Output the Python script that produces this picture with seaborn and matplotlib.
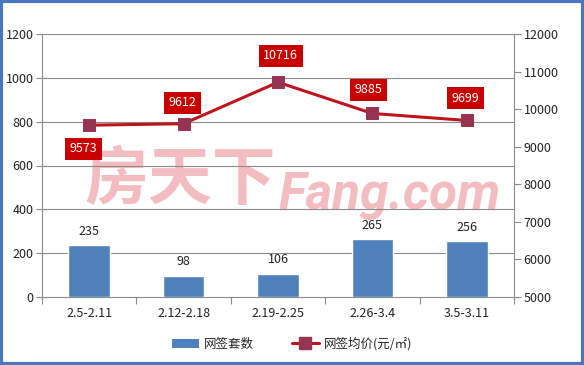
import numpy as np
import pandas as pd
import matplotlib
matplotlib.use("Agg")
import matplotlib.pyplot as plt
import seaborn as sns
from matplotlib.lines import Line2D
from matplotlib.patches import Patch, Rectangle

categories = ["2.5-2.11", "2.12-2.18", "2.19-2.25", "2.26-3.4", "3.5-3.11"]
counts = [235, 98, 106, 265, 256]
prices = [9573, 9612, 10716, 9885, 9699]
left_ticks = [0, 200, 400, 600, 800, 1000, 1200]
right_ticks = [5000, 6000, 7000, 8000, 9000, 10000, 11000, 12000]
bar_name = "网签套数"
line_name = "网签均价(元/㎡)"

sns.set_theme(style="white")
plt.rcParams["font.family"] = ["Noto Sans CJK SC", "DejaVu Sans"]

W, H = 584, 365
fig = plt.figure(figsize=(W / 100, H / 100), dpi=100)
fig.patch.set_facecolor("white")
ax = fig.add_axes([42 / W, 1 - 297 / H, (514 - 42) / W, (297 - 34) / H])

df = pd.DataFrame({"cat": categories, "count": counts, "price": prices, "pos": np.arange(len(categories))})

grid_c = "#8a8a8a"
bar_c = "#4f81bd"
line_c = "#c0141c"
mark_c = "#953553"
wm_c = "#f2bcc0"

sns.barplot(data=df, x="cat", y="count", ax=ax, color=bar_c, width=0.44,
            saturation=1, zorder=3)
ax.set_ylim(0, 1200)
ax.set_xlim(-0.5, len(categories) - 0.5)
ax.set_yticks(left_ticks)
ax.set_xlabel("")
ax.set_ylabel("")
for y in left_ticks[1:]:
    ax.axhline(y, color=grid_c, lw=0.8, zorder=1)
ax.set_xticks(np.arange(len(categories)))
ax.set_xticklabels(categories, fontsize=9, color="#222222")
ax.set_xticks(np.arange(-0.5, len(categories)), minor=True)
ax.tick_params(axis="x", which="major", length=0, pad=7)
ax.tick_params(axis="x", which="minor", length=5, width=0.8, color=grid_c, direction="out", bottom=True)
ax.tick_params(axis="y", length=4, width=0.8, color=grid_c, left=True, labelsize=9, labelcolor="#222222", pad=2)
for s in ["top", "right"]:
    ax.spines[s].set_visible(False)
for s in ["left", "bottom"]:
    ax.spines[s].set_color(grid_c)
    ax.spines[s].set_linewidth(0.8)

for p, v in zip(ax.patches, counts):
    ax.annotate(str(v), (p.get_x() + p.get_width() / 2, v), xytext=(0, 10),
                textcoords="offset points", ha="center", va="center",
                fontsize=9, color="#222222", zorder=5)

# watermark
ax.text(0.091, 0.373, "房天下", transform=ax.transAxes, fontsize=46, fontweight="bold",
        color=wm_c, ha="left", va="baseline", zorder=0.5)
ax.text(0.50, 0.335, "Fang.com", transform=ax.transAxes, fontsize=37, fontweight="bold",
        style="italic", family="Roboto", color=wm_c, ha="left", va="baseline",
        zorder=0.5)

ax2 = ax.twinx()
sns.lineplot(data=df, x="pos", y="price", ax=ax2, color=line_c, lw=2.2, marker="s",
             markersize=8, markerfacecolor=mark_c, markeredgecolor=mark_c, zorder=4)
ax2.set_ylim(5000, 12000)
ax2.set_yticks(right_ticks)
ax2.set_xlim(-0.5, len(categories) - 0.5)
ax2.set_xlabel("")
ax2.set_ylabel("")
ax2.tick_params(axis="y", length=5, width=0.8, color=grid_c, right=True, labelsize=9,
                labelcolor="#222222", pad=2)
for s in ["top", "left", "bottom"]:
    ax2.spines[s].set_visible(False)
ax2.spines["right"].set_color(grid_c)
ax2.spines["right"].set_linewidth(0.8)

label_offsets = [(-4, -17), (-1, 15), (2, 19), (-3, 17), (-1, 16)]
for i, v in enumerate(prices):
    ax2.annotate(str(v), (i, v), xytext=label_offsets[i], textcoords="offset points",
                 ha="center", va="center", fontsize=9, color="white", zorder=6,
                 bbox=dict(boxstyle="square,pad=0.35", fc="#c80000", ec="none"))

handles = [Patch(facecolor=bar_c, edgecolor="none"),
           Line2D([0], [0], color=line_c, lw=2.2, marker="s", markersize=8,
                  markerfacecolor=mark_c, markeredgecolor=mark_c)]
fig.legend(handles, [bar_name, line_name], loc="center", bbox_to_anchor=(0.5, 1 - 344 / H),
           ncol=2, frameon=False, fontsize=9, handlelength=2.2, columnspacing=3,
           handletextpad=0.4)

fig.patches.append(Rectangle((0.0025, 0.004), 0.995, 0.992, transform=fig.transFigure,
                             fill=False, ec="#4a76c0", lw=3, zorder=10))

fig.savefig("out.png", dpi=100, facecolor="white")
